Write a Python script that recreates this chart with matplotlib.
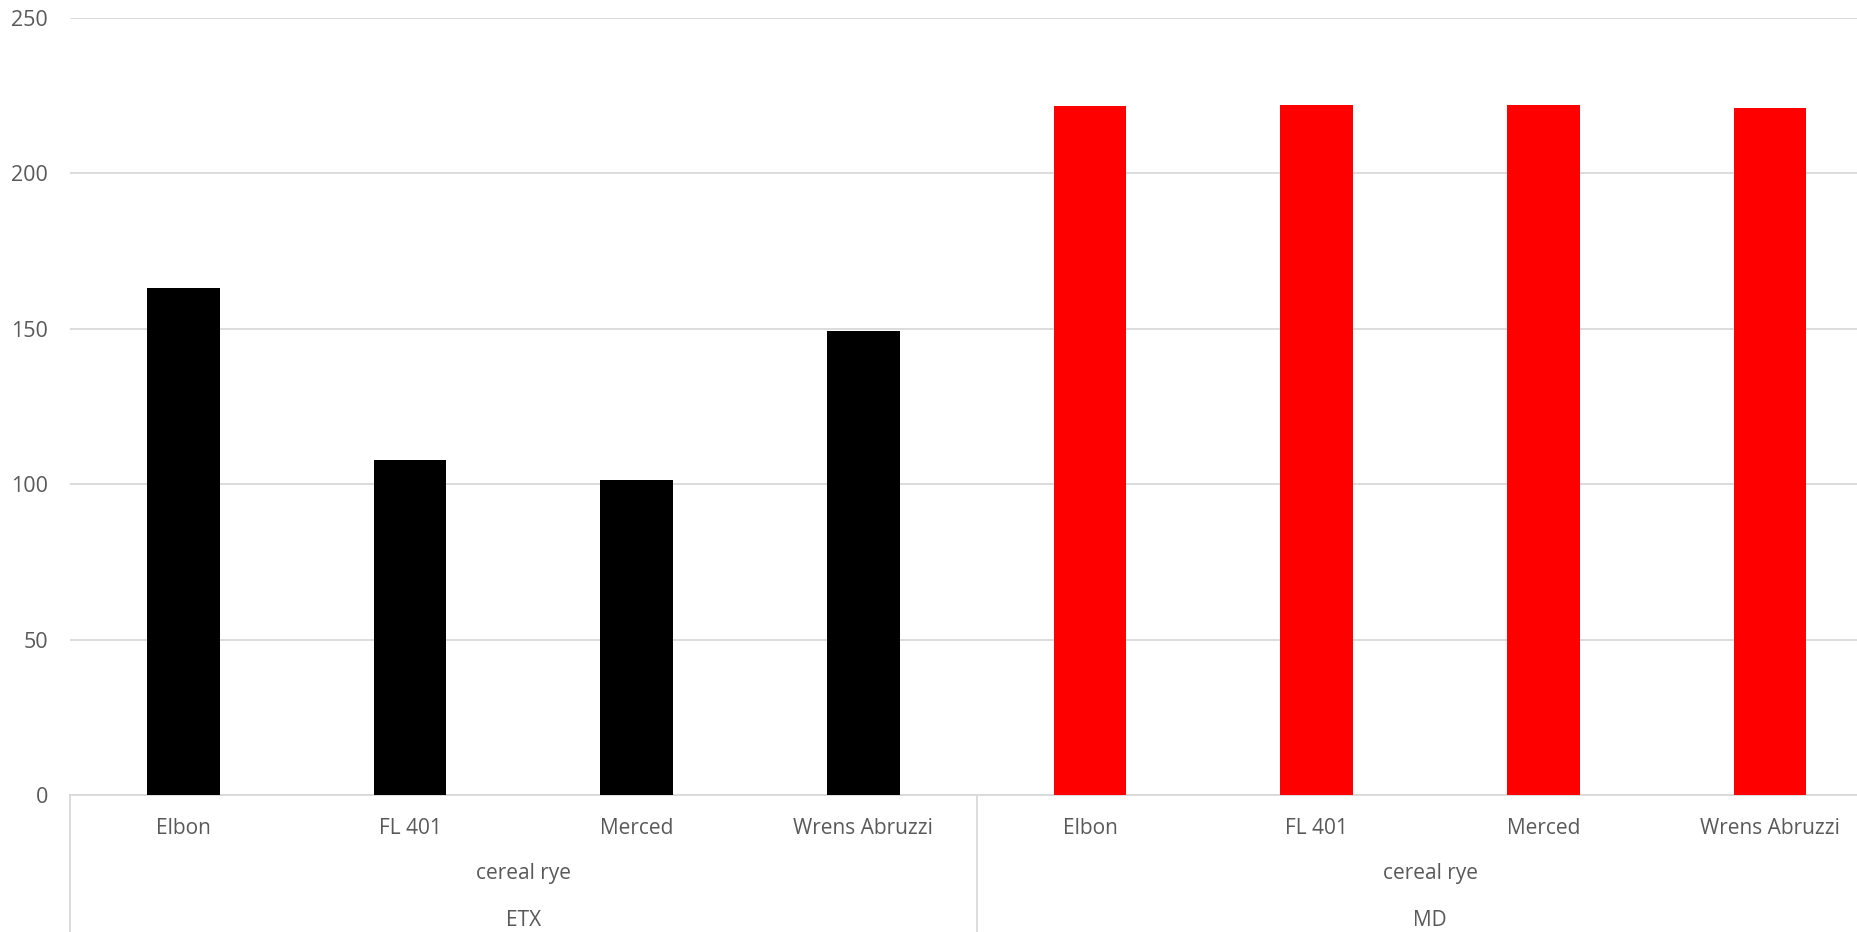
import numpy as np
import matplotlib.pyplot as plt
import matplotlib.transforms as mtransforms

plt.rcParams['font.family'] = ['Open Sans', 'DejaVu Sans']

# Data
varieties = ['Elbon', 'FL 401', 'Merced', 'Wrens Abruzzi']
crop = 'cereal rye'
sites = ['ETX', 'MD']
etx_values = [163.0, 107.9, 101.4, 149.3]
md_values = [221.7, 222.0, 222.0, 221.0]
site_colors = ['#000000', '#ff0000']

values = etx_values + md_values
labels = varieties * len(sites)
colors = [site_colors[0]] * len(etx_values) + [site_colors[1]] * len(md_values)
x = np.arange(len(values))

fig = plt.figure(figsize=(18.58, 9.32), dpi=100)
ax = fig.add_axes([0.0377, 0.147, 0.976, 0.834])

ax.bar(x, values, width=0.32, color=colors, zorder=3)

ax.set_xlim(-0.5, len(values) - 0.5)
ax.set_ylim(0, 250)
ax.set_yticks(np.arange(0, 251, 50))
ax.grid(axis='y', color='#d9d9d9', linewidth=1.3, zorder=0)

for side in ['top', 'right', 'left']:
    ax.spines[side].set_visible(False)
ax.spines['bottom'].set_color('#d9d9d9')
ax.spines['bottom'].set_linewidth(1.3)

ax.tick_params(axis='y', length=0, pad=16, labelsize=15.5, labelcolor='#595959')
ax.set_xticks(x)
ax.set_xticklabels(labels)
ax.tick_params(axis='x', length=0, pad=16.5, labelsize=15, labelcolor='#595959')

# Multi-level category axis: crop and site labels plus separators
trans = mtransforms.blended_transform_factory(ax.transData, ax.transAxes)
n = len(varieties)
for i, site in enumerate(sites):
    center = i * n + (n - 1) / 2
    ax.text(center, -0.101, crop, transform=trans, ha='center', va='center',
            fontsize=15, color='#595959')
    ax.text(center, -0.161, site, transform=trans, ha='center', va='center',
            fontsize=15, color='#595959')
for edge in [-0.5, n - 0.5]:
    ax.plot([edge, edge], [0, -0.2], transform=trans, color='#d9d9d9',
            linewidth=1.3, clip_on=False)

fig.savefig('out.png', dpi=100, facecolor='white')
